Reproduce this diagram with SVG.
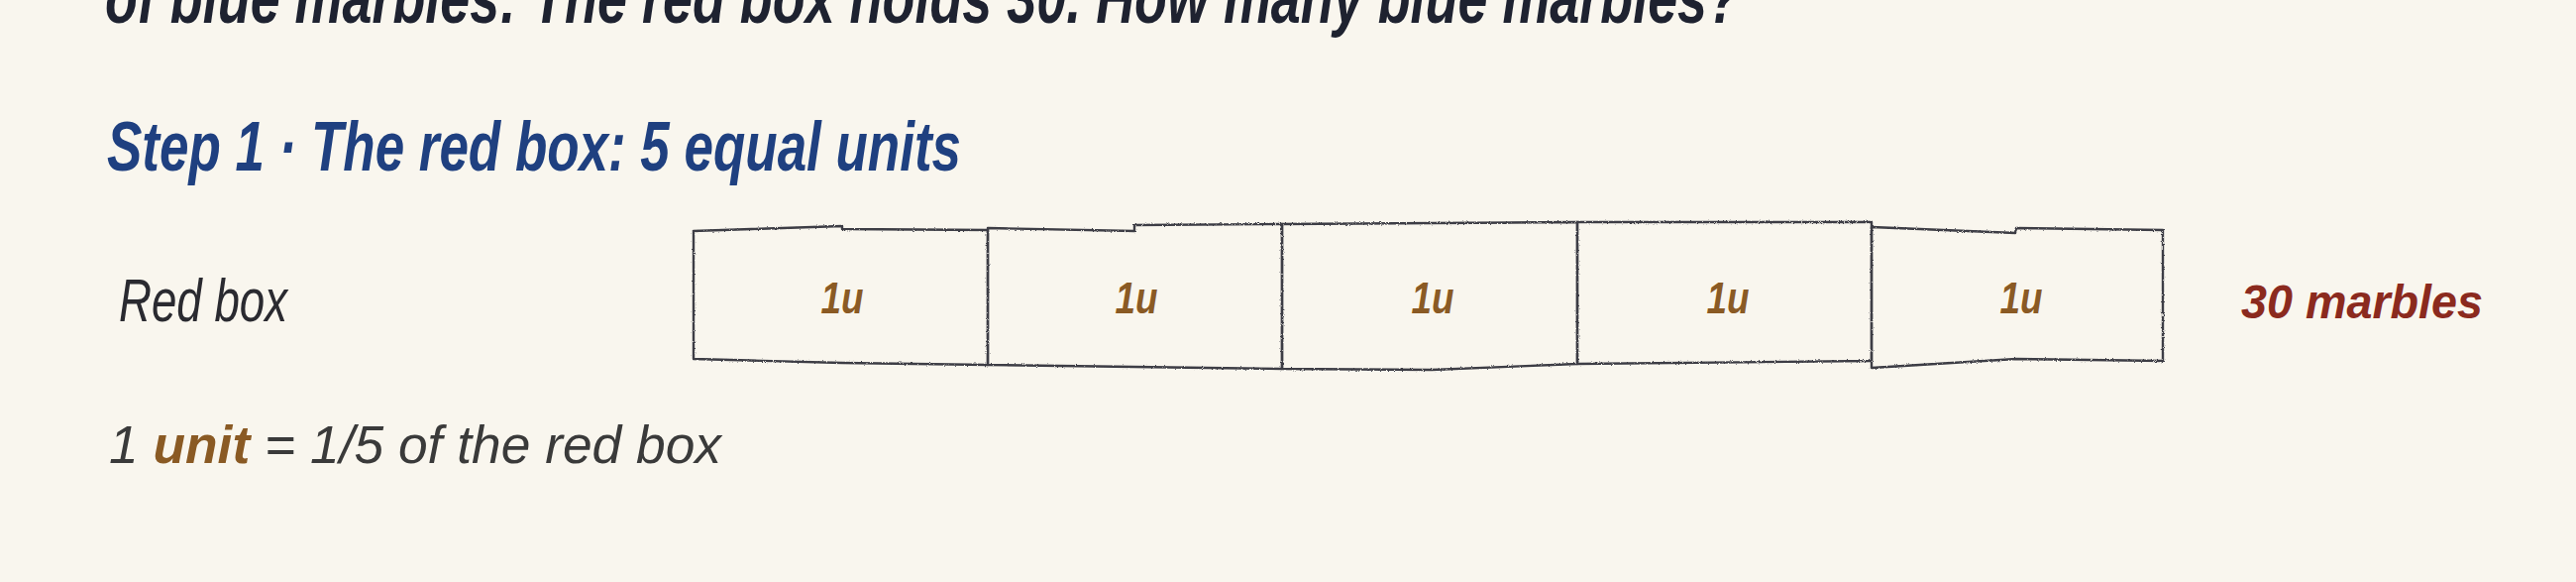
<svg xmlns="http://www.w3.org/2000/svg" width="2600" height="587" viewBox="0 0 2600 587">
<defs>
<filter id="rough" x="-5%" y="-20%" width="110%" height="140%">
<feTurbulence type="fractalNoise" baseFrequency="0.9" numOctaves="2" seed="3" result="n"/>
<feDisplacementMap in="SourceGraphic" in2="n" scale="2.5" xChannelSelector="R" yChannelSelector="G"/>
</filter>
<style>
.hand{font-family:"Liberation Sans","DejaVu Sans",sans-serif;font-style:italic}
.title{font-size:72px;font-weight:bold;fill:#1e2230}
.step{font-size:70px;font-weight:bold;fill:#1f4080}
.lbl{font-size:62px;fill:#2a2a30}
.unit{font-size:44px;font-weight:bold;fill:#8a5a24;text-anchor:middle}
.total{font-size:48px;font-weight:bold;fill:#8b2a1e}
.note{font-size:54px;fill:#3a3a3a}
.brown{fill:#8a5a24;font-weight:bold}
.box{fill:none;stroke:#3c3c44;stroke-width:2.4;stroke-linejoin:round;filter:url(#rough)}
</style>
</defs>
<rect width="2600" height="587" fill="#f9f6ee"/>
<g id="title"><text class="hand title" x="106" y="23" textLength="1650" lengthAdjust="spacingAndGlyphs">of blue marbles: The red box holds 30. How many blue marbles?</text></g>
<g id="step1"><text class="hand step" x="108" y="172" textLength="862" lengthAdjust="spacingAndGlyphs">Step 1 · The red box: 5 equal units</text></g>
<g id="label-red"><text class="hand lbl" x="120" y="324" textLength="170" lengthAdjust="spacingAndGlyphs">Red box</text></g>
<g id="unit1"><path class="box" d="M700,233 L850,228 L850,231 L997,232 L997,368 L850,366 L700,362 Z"/><text class="hand unit" x="850" y="316" textLength="43" lengthAdjust="spacingAndGlyphs">1u</text></g>
<g id="unit2"><path class="box" d="M997,230 L1145,233 L1145,227 L1294,226 L1294,372 L1145,370 L997,368 Z"/><text class="hand unit" x="1147" y="316" textLength="43" lengthAdjust="spacingAndGlyphs">1u</text></g>
<g id="unit3"><path class="box" d="M1294,226 L1592,224 L1592,367 L1445,373 L1294,372 Z"/><text class="hand unit" x="1446" y="316" textLength="43" lengthAdjust="spacingAndGlyphs">1u</text></g>
<g id="unit4"><path class="box" d="M1592,224 L1889,224 L1889,364 L1592,367 Z"/><text class="hand unit" x="1744" y="316" textLength="43" lengthAdjust="spacingAndGlyphs">1u</text></g>
<g id="unit5"><path class="box" d="M1889,229 L2034,235 L2035,230 L2183,232 L2183,364 L2035,362 L1889,371 Z"/><text class="hand unit" x="2040" y="316" textLength="43" lengthAdjust="spacingAndGlyphs">1u</text></g>
<g id="total"><text class="hand total" x="2262" y="321" textLength="244" lengthAdjust="spacingAndGlyphs">30 marbles</text></g>
<g id="note"><text class="hand note" x="110" y="467" textLength="618" lengthAdjust="spacingAndGlyphs">1 <tspan class="brown">unit</tspan> = 1/5 of the red box</text></g>
<g id="connectors"/>
</svg>
